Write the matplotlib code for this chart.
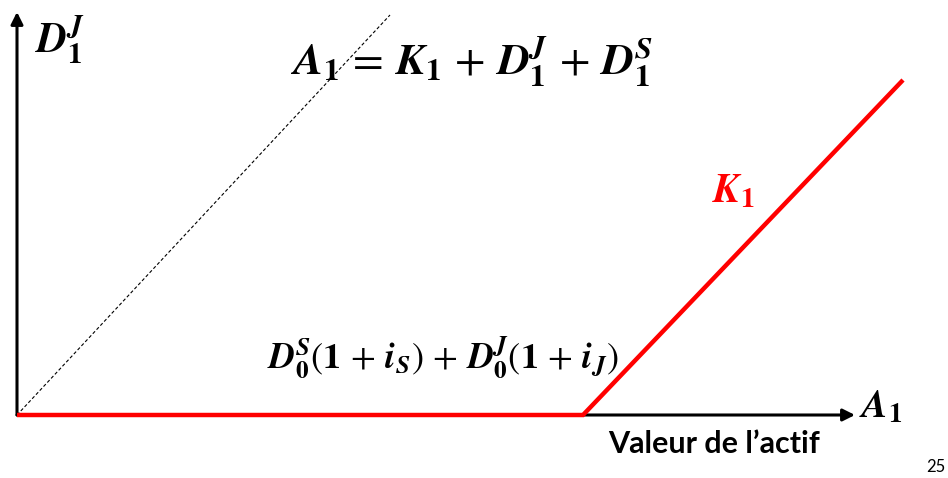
import matplotlib
matplotlib.use("Agg")
import matplotlib.pyplot as plt

# ---- data (arbitrary asset-value units) ----
debt_threshold = 566            # D0S(1+iS) + D0J(1+iJ)
asset_values = [0, 566, 886]    # A1
equity_values = [0, 0, 335]     # K1 = max(A1 - debt, 0)
diag_x = [0, 373]               # dashed reference line
diag_y = [0, 400]
axis_x_max = 838
axis_y_max = 403

plt.rcParams['mathtext.fontset'] = 'stix'

fig = plt.figure(figsize=(9.48, 4.78), dpi=100)
ax = fig.add_axes([0, 0, 1, 1])
ax.set_xlim(-17, 931)
ax.set_ylim(-63, 415)
ax.axis('off')

# axes with arrows
ax.annotate('', xy=(axis_x_max, 0), xytext=(0, 0),
            arrowprops=dict(arrowstyle='-|>', lw=2.2, color='black', mutation_scale=18,
                            shrinkA=0, shrinkB=0))
ax.annotate('', xy=(0, axis_y_max), xytext=(0, 0),
            arrowprops=dict(arrowstyle='-|>', lw=2.2, color='black', mutation_scale=18,
                            shrinkA=0, shrinkB=0))

# dashed diagonal
ax.plot(diag_x, diag_y, color='black', lw=0.8, ls=(0, (3, 2)))

# red payoff
ax.plot(asset_values, equity_values, color='#ff0000', lw=3.2, solid_capstyle='butt',
        solid_joinstyle='miter', zorder=5)

def b(s):
    return r'\mathbfit{' + s + '}'

one = r'\mathbf{1}'
zero = r'\mathbf{0}'
sp = r'\,'

ax.text(18, 362, '$' + b('D') + '_{' + one + '}^{' + b('J') + '}$',
        fontsize=30, ha='left', va='baseline')
ax.text(273, 340, '$' + b('A') + '_{' + one + '}' + sp + '=' + sp + b('K') + '_{' + one + '}' + sp + '+' + sp
        + b('D') + '_{' + one + '}^{' + b('J') + '}' + sp + '+' + sp + b('D') + '_{' + one + '}^{' + b('S') + '}$',
        fontsize=32, ha='left', va='baseline')
ax.text(695, 212, '$' + b('K') + '_{' + one + '}$', fontsize=29, ha='left', va='baseline',
        color='#ff0000')
ax.text(250, 47, '$' + b('D') + '_{' + zero + '}^{' + b('S') + r'}(\mathbf{1}' + sp + '+' + sp + b('i') + '_{' + b('S')
        + r'})' + sp + '+' + sp + b('D') + '_{' + zero + '}^{' + b('J') + r'}(\mathbf{1}' + sp + '+' + sp
        + b('i') + '_{' + b('J') + r'})$',
        fontsize=26, ha='left', va='baseline')
ax.text(842, -3, '$' + b('A') + '_{' + one + '}$', fontsize=28, ha='left', va='baseline')
ax.text(591, -38, "Valeur de l\u2019actif", fontsize=22, fontfamily='Lato', fontweight='bold',
        ha='left', va='baseline')
ax.text(919, -52, "25", fontsize=12, fontfamily='Lato', ha='center', va='center')

fig.savefig('out.png', dpi=100)
